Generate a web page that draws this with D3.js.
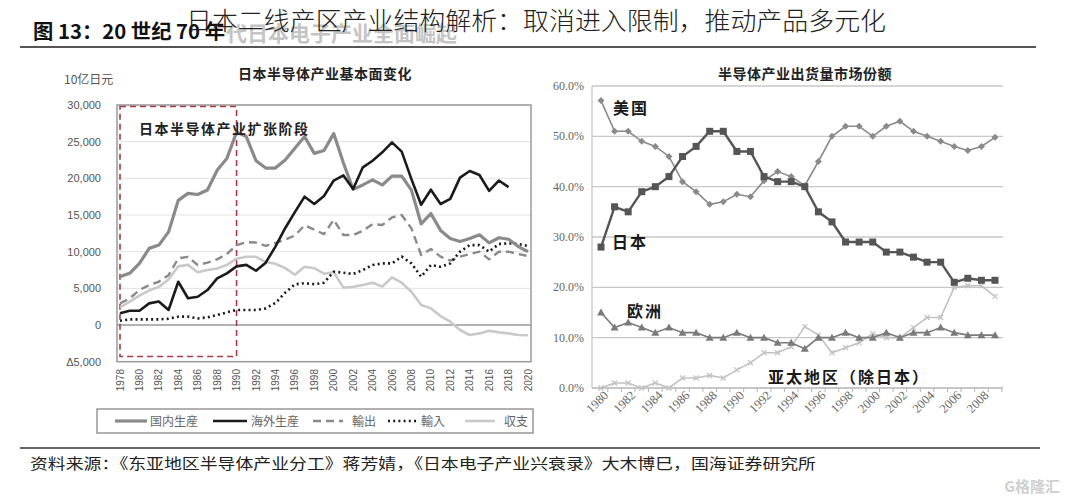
<!DOCTYPE html>
<html>
<head>
<meta charset="utf-8">
<script src="https://cdn.jsdelivr.net/npm/d3@7"></script>
<style>
  body { margin: 0; background: #fff; }
  svg { display: block; }
</style>
</head>
<body>
<svg id="chart" width="1065" height="500"></svg>
<script>
// ---- data: left chart (10亿日元), 1978-2020 ----
const years = [1978, 1979, 1980, 1981, 1982, 1983, 1984, 1985, 1986, 1987, 1988, 1989, 1990,
  1991, 1992, 1993, 1994, 1995, 1996, 1997, 1998, 1999, 2000, 2001, 2002, 2003, 2004,
  2005, 2006, 2007, 2008, 2009, 2010, 2011, 2012, 2013, 2014, 2015, 2016, 2017, 2018, 2019, 2020];
const domestic = [6600, 7050, 8400, 10450, 10900, 12700, 17000, 17950, 17800, 18400, 21100, 22700, 26300,
  25700, 22400, 21400, 21400, 22500, 24100, 25700, 23400, 23800, 26100, 22100, 18500, 19100, 19800,
  19100, 20300, 20300, 18400, 13800, 15200, 12900, 11800, 11400, 11800, 12300, 11200, 11900, 11700, 10700, 10000];
const overseas = [1600, 1950, 1950, 2950, 3200, 2050, 5900, 3650, 3860, 4770, 6360, 7050, 8000,
  8200, 7400, 8500, 10700, 13200, 15400, 17500, 16500, 17600, 19700, 20400, 18550, 21500, 22400,
  23550, 24900, 23640, 19900, 16400, 18450, 16500, 17200, 20100, 21000, 20450, 18300, 19700, 18800, null, null];
const exportsJp = [2950, 3640, 4770, 5450, 5900, 6800, 9090, 9300, 8180, 8500, 8950, 9680, 10900,
  11300, 11250, 10800, 11200, 11650, 12200, 13600, 13000, 12400, 14350, 12270, 12270, 12860, 13770,
  13640, 14680, 15000, 13180, 9545, 10360, 9320, 8770, 9320, 9680, 10000, 8950, 10000, 10000, 9680, 9400];
const importsJp = [590, 770, 770, 770, 770, 860, 1140, 1140, 900, 1050, 1360, 1730, 2050,
  2050, 2050, 2270, 3000, 4400, 5545, 5700, 5570, 5770, 7270, 7140, 6950, 7500, 8180,
  8400, 8400, 9320, 8400, 6590, 8180, 7950, 8400, 10000, 10900, 10900, 10000, 11050, 11140, 11050, 10770];
const balance = [2400, 3200, 4000, 4700, 5200, 6200, 8000, 8200, 7200, 7500, 7700, 8200, 9050,
  9300, 9300, 8600, 8350, 7750, 6850, 7950, 7750, 7000, 7200, 5100, 5230, 5450, 5770,
  5230, 6500, 5770, 4540, 2730, 2270, 1230, 450, -680, -1360, -1140, -770, -1000, -1140, -1360, -1400];
const leftTicks = [-5000, 0, 5000, 10000, 15000, 20000, 25000, 30000];
const leftTickLabels = ["Δ5,000", "0", "5,000", "10,000", "15,000", "20,000", "25,000", "30,000"];
const leftSeriesNames = ["国内生産", "海外生産", "輸出", "輸入", "収支"];

// ---- data: right chart (出货量市场份额 %), 1980-2009 ----
const shareYears = [1980, 1981, 1982, 1983, 1984, 1985, 1986, 1987, 1988, 1989, 1990, 1991, 1992, 1993, 1994,
  1995, 1996, 1997, 1998, 1999, 2000, 2001, 2002, 2003, 2004, 2005, 2006, 2007, 2008, 2009];
const usaShare = [57.1, 51, 51, 49, 48, 46, 41, 39, 36.5, 37, 38.5, 38, 41.2, 43, 42,
  40.2, 45, 50, 52, 52, 50, 52, 53, 51, 50, 49, 48, 47.2, 48, 49.8];
const japanShare = [28, 36, 35, 39, 40, 42, 46, 48, 51, 51, 47, 47, 42, 41, 41,
  40, 35, 33, 29, 29, 29, 27, 27, 26, 25, 25, 21, 21.8, 21.4, 21.4];
const europeShare = [15, 12, 13, 12, 11, 12, 11, 11, 10, 10, 11, 10, 10, 9, 9,
  7.8, 10, 10, 11, 10, 10, 11, 10, 11, 11, 12, 11, 10.5, 10.5, 10.5];
const asiaShare = [0, 1, 1, 0, 1, 0, 2, 2, 2.5, 2, 3.6, 5, 7, 7, 8.2,
  12.2, 10.5, 7, 8, 9, 10.8, 10, 10, 12, 14, 14, 20, 20.3, 20.3, 18.2];
const shareTicks = [0, 10, 20, 30, 40, 50, 60];
const shareYearLabels = [1980, 1982, 1984, 1986, 1988, 1990, 1992, 1994, 1996, 1998, 2000, 2002, 2004, 2006, 2008];

const cjk = "'Noto Sans CJK SC', 'Noto Sans', sans-serif";
const cjkJP = "'Noto Sans CJK JP', 'Noto Sans CJK SC', sans-serif";
const serif = "'Liberation Serif', 'DejaVu Serif', serif";
const sans = "'Liberation Sans', Arial, sans-serif";

const svg = d3.select("#chart");
svg.append("rect").attr("width", 1065).attr("height", 500).attr("fill", "#fff");

// ---------- header ----------
svg.append("text").attr("x", 226).attr("y", 41)
  .style("font", `bold 21px ${cjk}`).attr("fill", "#c4c4c4")
  .text("代日本电子产业全面崛起");
svg.append("text").attr("x", 33).attr("y", 39)
  .attr("textLength", 192).attr("lengthAdjust", "spacingAndGlyphs")
  .style("font", `bold 20px ${cjk}`).attr("fill", "#111")
  .text("图 13：20 世纪 70 年");
svg.append("text").attr("x", 186).attr("y", 30)
  .attr("textLength", 700).attr("lengthAdjust", "spacingAndGlyphs")
  .style("font", `300 25px ${cjk}`).attr("fill", "#222")
  .text("日本二线产区产业结构解析：取消进入限制，推动产品多元化");
svg.append("line").attr("x1", 20).attr("x2", 1036).attr("y1", 47).attr("y2", 47)
  .attr("stroke", "#555").attr("stroke-width", 2);

// ---------- left chart ----------
const lx = d3.scaleLinear().domain([1978, 2020]).range([120, 528]);
const ly = d3.scaleLinear().domain([-5000, 30000]).range([361.7, 105]);
const L = svg.append("g");

L.append("text").attr("x", 325).attr("y", 79).attr("text-anchor", "middle")
  .style("font", `bold 14px ${cjk}`).attr("fill", "#222").attr("letter-spacing", 0.5)
  .text("日本半导体产业基本面变化");
L.append("text").attr("x", 64).attr("y", 84)
  .style("font", `12px ${cjk}`).attr("fill", "#555").text("10亿日元");

L.selectAll(".grid").data(leftTicks.filter(d => d > -5000 && d !== 0)).enter().append("line")
  .attr("x1", 117).attr("x2", 531).attr("y1", d => ly(d)).attr("y2", d => ly(d))
  .attr("stroke", "#e2e2e2").attr("stroke-width", 1);
L.append("line").attr("x1", 117).attr("x2", 531).attr("y1", ly(0)).attr("y2", ly(0))
  .attr("stroke", "#999").attr("stroke-width", 1.5);
L.append("rect").attr("x", 117).attr("y", ly(30000)).attr("width", 414).attr("height", ly(-5000) - ly(30000))
  .attr("fill", "none").attr("stroke", "#9a9a9a").attr("stroke-width", 1.5);

L.selectAll(".ytl").data(leftTicks).enter().append("text")
  .attr("x", 101).attr("y", d => ly(d) + 4).attr("text-anchor", "end")
  .style("font", `11px ${sans}`).attr("fill", "#555")
  .text((d, i) => leftTickLabels[i]);

L.selectAll(".xtl").data(years.filter(y => y % 2 === 0)).enter().append("text")
  .attr("transform", d => `translate(${lx(d) + 3.5},369) rotate(-90)`)
  .attr("text-anchor", "end")
  .style("font", `10px ${sans}`).attr("fill", "#555").text(d => d);

// expansion phase box
L.append("rect").attr("x", lx(1978)).attr("y", 106.5).attr("width", lx(1990) - lx(1978)).attr("height", 250)
  .attr("fill", "none")
  .attr("stroke", "#a53c46").attr("stroke-width", 1.6).attr("stroke-dasharray", "6,4");

const leftSeries = [
  { name: leftSeriesNames[0], values: domestic, color: "#8a8a8a", width: 3.2, dash: null },
  { name: leftSeriesNames[1], values: overseas, color: "#1b1b1b", width: 2.6, dash: null },
  { name: leftSeriesNames[2], values: exportsJp, color: "#8a8a8a", width: 2.4, dash: "8,5" },
  { name: leftSeriesNames[3], values: importsJp, color: "#1b1b1b", width: 2.6, dash: "2,3.2" },
  { name: leftSeriesNames[4], values: balance, color: "#c9c9c9", width: 2.6, dash: null }
];
const lline = d3.line().defined(d => d[1] != null).x(d => lx(d[0])).y(d => ly(d[1]));
// draw order: balance, exports, imports, domestic, overseas
[4, 2, 3, 0, 1].forEach(i => {
  const s = leftSeries[i];
  L.append("path").datum(years.map((y, k) => [y, s.values[k]]))
    .attr("d", lline).attr("fill", "none")
    .attr("stroke", s.color).attr("stroke-width", s.width)
    .attr("stroke-dasharray", s.dash).attr("stroke-linejoin", "round");
});

L.append("text").attr("x", 139).attr("y", 134)
  .style("font", `bold 14px ${cjk}`).attr("fill", "#222").attr("letter-spacing", 1.5)
  .text("日本半导体产业扩张阶段");

// legend
const lg = L.append("g");
lg.append("rect").attr("x", 97).attr("y", 409).attr("width", 436).attr("height", 24)
  .attr("fill", "#fff").attr("stroke", "#888").attr("stroke-width", 1.3);
const legPos = [[115, 147], [213, 247], [313, 343], [388, 418], [465, 495]];
const legText = [150, 251, 352, 421, 504];
leftSeries.forEach((s, i) => {
  lg.append("line").attr("x1", legPos[i][0]).attr("x2", legPos[i][1]).attr("y1", 421).attr("y2", 421)
    .attr("stroke", s.color).attr("stroke-width", s.width).attr("stroke-dasharray", s.dash);
  lg.append("text").attr("x", legText[i]).attr("y", 425.5)
    .style("font", `12px ${cjkJP}`).attr("fill", "#666").text(s.name);
});

// ---------- right chart ----------
const rx = d3.scaleLinear().domain([1980, 2009]).range([601, 995]);
const ry = d3.scaleLinear().domain([0, 60]).range([388, 86]);
const R = svg.append("g");

R.append("text").attr("x", 805).attr("y", 79).attr("text-anchor", "middle")
  .style("font", `bold 14px ${cjk}`).attr("fill", "#222").attr("letter-spacing", 0.5)
  .text("半导体产业出货量市场份额");

R.selectAll(".rg").data(shareTicks.filter(d => d > 0)).enter().append("line")
  .attr("x1", 592).attr("x2", 1003).attr("y1", d => ry(d)).attr("y2", d => ry(d))
  .attr("stroke", "#c8c8c8").attr("stroke-width", 1.3);
R.append("line").attr("x1", 592).attr("x2", 592).attr("y1", ry(60)).attr("y2", ry(0))
  .attr("stroke", "#c8c8c8").attr("stroke-width", 1.3);
R.append("line").attr("x1", 592).attr("x2", 1003).attr("y1", ry(0)).attr("y2", ry(0))
  .attr("stroke", "#b5b5b5").attr("stroke-width", 1.5);
R.selectAll(".rtk").data(shareYears).enter().append("line")
  .attr("x1", d => rx(d) + 6.8).attr("x2", d => rx(d) + 6.8).attr("y1", ry(0)).attr("y2", ry(0) + 4)
  .attr("stroke", "#b5b5b5");

R.selectAll(".ryl").data(shareTicks).enter().append("text")
  .attr("x", 584).attr("y", d => ry(d) + 4).attr("text-anchor", "end")
  .style("font", `12px ${serif}`).attr("fill", "#666").text(d => d.toFixed(1) + "%");
R.selectAll(".rxl").data(shareYearLabels).enter().append("text")
  .attr("transform", d => `translate(${rx(d) + 8},396) rotate(-45)`)
  .attr("text-anchor", "end")
  .style("font", `12.5px ${serif}`).attr("fill", "#666").text(d => d);

const rline = d3.line().x(d => rx(d[0])).y(d => ry(d[1]));
const shareSeries = [
  { values: asiaShare, color: "#c2c2c2", width: 1.6, mark: "x" },
  { values: europeShare, color: "#7a7a7a", width: 1.6, mark: "tri" },
  { values: usaShare, color: "#8a8a8a", width: 1.6, mark: "dia" },
  { values: japanShare, color: "#555", width: 2.4, mark: "sq" }
];
shareSeries.forEach(s => {
  const pts = shareYears.map((y, k) => [y, s.values[k]]);
  R.append("path").datum(pts).attr("d", rline).attr("fill", "none")
    .attr("stroke", s.color).attr("stroke-width", s.width);
  const g = R.append("g");
  pts.forEach(p => {
    const cx = rx(p[0]), cy = ry(p[1]);
    if (s.mark === "sq") {
      g.append("rect").attr("x", cx - 3.5).attr("y", cy - 3.5).attr("width", 7).attr("height", 7).attr("fill", s.color);
    } else if (s.mark === "dia") {
      g.append("path").attr("d", `M${cx},${cy - 3.5}L${cx + 3.5},${cy}L${cx},${cy + 3.5}L${cx - 3.5},${cy}Z`).attr("fill", s.color);
    } else if (s.mark === "tri") {
      g.append("path").attr("d", `M${cx},${cy - 4}L${cx + 4},${cy + 3}L${cx - 4},${cy + 3}Z`).attr("fill", s.color);
    } else {
      g.append("path").attr("d", `M${cx - 2.5},${cy - 2.5}L${cx + 2.5},${cy + 2.5}M${cx + 2.5},${cy - 2.5}L${cx - 2.5},${cy + 2.5}`)
        .attr("stroke", s.color).attr("stroke-width", 1.3);
    }
  });
});

const shareLabels = [["美国", 613, 114], ["日本", 612, 248], ["欧洲", 627, 317], ["亚太地区（除日本）", 768, 383]];
R.selectAll(".sl").data(shareLabels).enter().append("text")
  .attr("x", d => d[1]).attr("y", d => d[2])
  .style("font", `bold 16px ${cjk}`).attr("fill", "#1a1a1a").attr("letter-spacing", 2)
  .text(d => d[0]);

// ---------- footer ----------
svg.append("line").attr("x1", 20).attr("x2", 1040).attr("y1", 448).attr("y2", 448)
  .attr("stroke", "#666").attr("stroke-width", 2);
svg.append("text").attr("x", 30).attr("y", 469)
  .attr("textLength", 786).attr("lengthAdjust", "spacingAndGlyphs")
  .style("font", `15px ${cjk}`).attr("fill", "#222")
  .text("资料来源：《东亚地区半导体产业分工》蒋芳婧，《日本电子产业兴衰录》大木博巳，国海证券研究所");
svg.append("text").attr("x", 1060).attr("y", 492).attr("text-anchor", "end")
  .style("font", `bold 15px ${cjk}`).attr("fill", "#d0d0d0").text("G格隆汇");
</script>
</body>
</html>
